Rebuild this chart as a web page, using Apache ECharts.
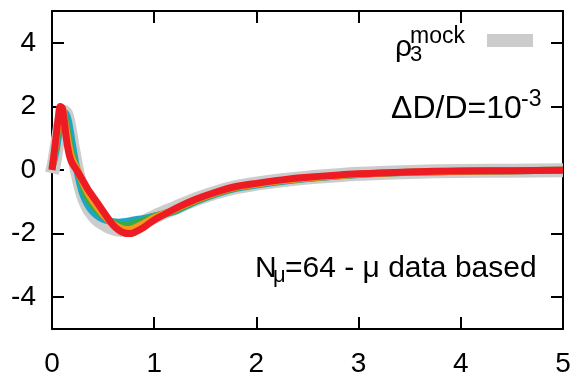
<!DOCTYPE html>
<html>
<head>
<meta charset="utf-8">
<script src="https://cdn.jsdelivr.net/npm/echarts@6/dist/echarts.min.js"></script>
<style>
html,body{margin:0;padding:0;background:#fff;}
#c{width:577px;height:378px;}
</style>
</head>
<body>
<div id="c"></div>
<script>
var xs = [0, 0.02, 0.04, 0.06, 0.08, 0.1, 0.12, 0.14, 0.16, 0.18, 0.2, 0.25, 0.3, 0.35, 0.4, 0.45, 0.5, 0.55, 0.6, 0.65, 0.7, 0.75, 0.8, 0.9, 1.0, 1.1, 1.2, 1.4, 1.6, 1.8, 2.0, 2.25, 2.5, 3.0, 3.5, 4.0, 4.5, 5.0];
var mockBand = [-0.1, 0.2, 0.6, 1.0, 1.4, 1.7, 1.82, 1.75, 1.5, 1.15, 0.75, -0.1, -0.75, -1.15, -1.4, -1.57, -1.68, -1.77, -1.83, -1.87, -1.88, -1.86, -1.8, -1.63, -1.47, -1.33, -1.2, -0.93, -0.71, -0.54, -0.43, -0.32, -0.24, -0.12, -0.06, -0.03, -0.02, -0.01];
var cyanVals = [0.1, 0.3, 0.6, 1.0, 1.4, 1.7, 1.8, 1.75, 1.55, 1.2, 0.8, -0.1, -0.75, -1.1, -1.32, -1.46, -1.55, -1.6, -1.63, -1.64, -1.63, -1.6, -1.57, -1.52, -1.45, -1.38, -1.3, -1.0, -0.76, -0.58, -0.47, -0.36, -0.27, -0.14, -0.07, -0.04, -0.02, -0.01];
var greenVals = [0.05, 0.4, 0.8, 1.25, 1.65, 1.88, 1.75, 1.45, 1.1, 0.75, 0.45, 0.0, -0.5, -0.9, -1.12, -1.3, -1.45, -1.57, -1.66, -1.72, -1.74, -1.73, -1.68, -1.58, -1.46, -1.37, -1.28, -0.98, -0.74, -0.56, -0.45, -0.34, -0.26, -0.13, -0.07, -0.04, -0.02, -0.01];
var orangeVals = [0.02, 0.45, 0.95, 1.45, 1.85, 1.95, 1.65, 1.25, 0.85, 0.55, 0.33, 0.0, -0.38, -0.72, -0.98, -1.2, -1.4, -1.57, -1.7, -1.8, -1.86, -1.87, -1.83, -1.68, -1.5, -1.37, -1.24, -0.95, -0.72, -0.54, -0.44, -0.33, -0.25, -0.13, -0.07, -0.04, -0.02, -0.01];
var redVals = [0, 0.5, 1.05, 1.6, 2.0, 1.95, 1.55, 1.0, 0.6, 0.35, 0.2, -0.05, -0.32, -0.6, -0.83, -1.06, -1.3, -1.53, -1.74, -1.88, -1.97, -2.0, -1.97, -1.8, -1.57, -1.4, -1.22, -0.93, -0.7, -0.52, -0.42, -0.31, -0.23, -0.12, -0.06, -0.03, -0.02, -0.01];
var xTicks = [0, 1, 2, 3, 4, 5];
var yTicks = [-4, -2, 0, 2, 4];

var FONT = 'Liberation Sans, Arial, sans-serif';
function pairs(v){ return xs.map(function(x,i){ return [x, v[i]]; }); }
function mkLine(name, vals, color, width){
  return {name:name, type:'line', data:pairs(vals), showSymbol:false, symbol:'none', smooth:0.3, clip:false,
    lineStyle:{color:color, width:width, cap:'butt', join:'round'}, silent:true, animation:false};
}
var axisCommon = {
  axisLine:{show:true, onZero:false, lineStyle:{color:'#000', width:2}},
  axisTick:{show:true, inside:true, length:12, lineStyle:{color:'#000', width:2}},
  splitLine:{show:false}
};
function txt(x, y, s, size){
  return {type:'text', x:x, y:y, silent:true, style:{text:s, font:size+'px '+FONT, fill:'#000', textAlign:'left', textVerticalAlign:'middle', align:'left', verticalAlign:'middle'}};
}
var chart = echarts.init(document.getElementById('c'), null, {renderer:'canvas'});
chart.setOption({
  animation:false,
  backgroundColor:'#fff',
  grid:{left:52, right:14, top:11, bottom:44, containLabel:false},
  xAxis:[
    Object.assign({type:'value', position:'bottom', min:0, max:5, interval:1,
      axisLabel:{show:true, fontSize:28, color:'#000', fontFamily:FONT, margin:21, customValues:xTicks}}, axisCommon),
    Object.assign({type:'value', position:'top', min:0, max:5, interval:1,
      axisLabel:{show:false}}, axisCommon)
  ],
  yAxis:[
    Object.assign({type:'value', position:'left', min:-5, max:5, interval:1,
      axisLabel:{show:true, fontSize:28, color:'#000', fontFamily:FONT, margin:16, customValues:yTicks}}, axisCommon,
      {axisTick:{show:true, inside:true, length:12, lineStyle:{color:'#000', width:2}, customValues:yTicks}}),
    Object.assign({type:'value', position:'right', min:-5, max:5, interval:1,
      axisLabel:{show:false}}, axisCommon,
      {axisTick:{show:true, inside:true, length:12, lineStyle:{color:'#000', width:2}, customValues:yTicks}})
  ],
  series:[
    mkLine('mock', mockBand, '#cccccc', 14),
    mkLine('cyan', cyanVals, '#1aa6c8', 7),
    mkLine('green', greenVals, '#3aaa48', 7),
    mkLine('orange', orangeVals, '#f7971d', 7),
    mkLine('red', redVals, '#ed1c24', 7)
  ],
  graphic:[
    {type:'rect', shape:{x:487, y:34, width:46, height:13}, style:{fill:'#cccccc'}, silent:true},
    txt(395, 48, 'ρ', 30),
    txt(410, 55, '3', 22),
    txt(410, 37, 'mock', 23),
    txt(391, 109, 'ΔD/D=10', 32),
    txt(521, 100, '-3', 23),
    txt(255, 269, 'N', 30),
    txt(273, 276, 'μ', 22),
    txt(285, 269, '=64 - μ data based', 30)
  ]
});
</script>
</body>
</html>
